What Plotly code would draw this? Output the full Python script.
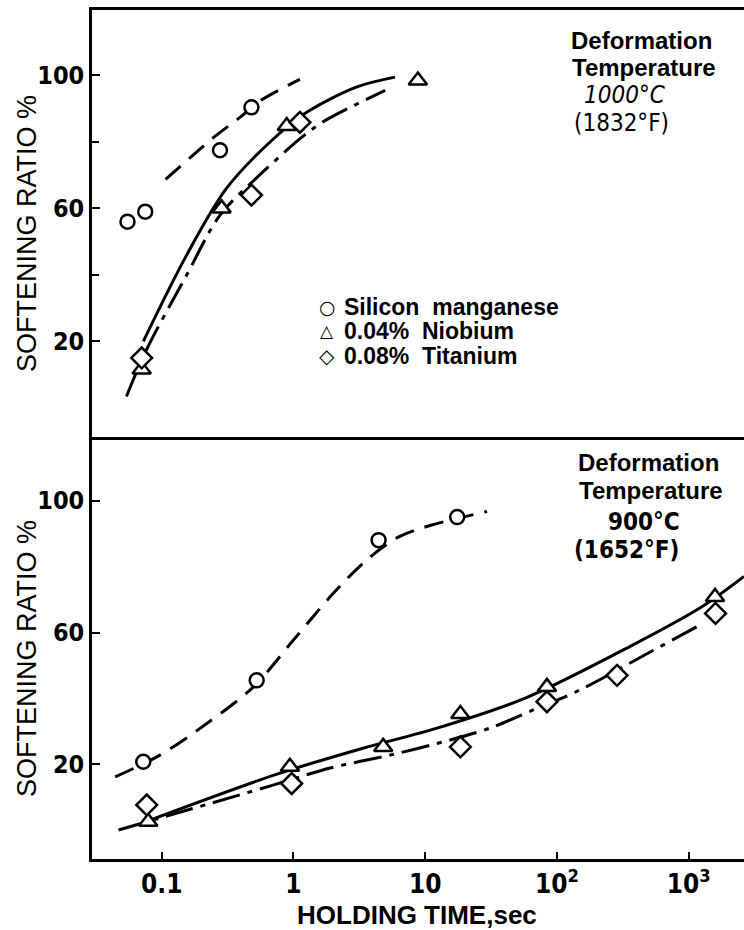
import plotly.graph_objects as go
from plotly.subplots import make_subplots

# ---------------- data ----------------
# Top panel: deformation temperature 1000 C
top_si_x = [0.055, 0.075, 0.277, 0.48]
top_si_y = [56, 59, 77.5, 90.4]
top_nb_x = [0.0705, 0.285, 0.89, 8.8]
top_nb_y = [11.5, 60, 84.8, 98.5]
top_ti_x = [0.0705, 0.48, 1.12]
top_ti_y = [15, 64, 85.9]

top_si_curve_x = [0.107, 0.245, 0.39, 0.56, 1.12]
top_si_curve_y = [68.7, 81.2, 87.3, 92.4, 98.8]
top_nb_curve_x = [0.0725, 0.155, 0.31, 0.70, 1.26, 3.0, 5.9]
top_nb_curve_y = [20, 46, 66, 80.8, 88.9, 96.5, 99.5]
top_ti_curve_x = [0.054, 0.077, 0.155, 0.277, 0.51, 1.19, 1.74, 4.97]
top_ti_curve_y = [3.4, 17.6, 40, 58, 68.7, 81.8, 86.4, 95.5]

# Bottom panel: deformation temperature 900 C
bot_si_x = [0.0725, 0.526, 4.43, 17.5]
bot_si_y = [20.8, 45.5, 88, 95]
bot_nb_x = [0.079, 0.94, 4.8, 18.5, 84, 1585]
bot_nb_y = [2.6, 19.3, 25.3, 35.3, 43.5, 70.8]
bot_ti_x = [0.077, 0.97, 18.5, 84, 286, 1600]
bot_ti_y = [7.7, 14.2, 25.3, 39, 47, 65.8]

bot_si_curve_x = [0.0443, 0.097, 0.22, 0.50, 1.0, 2.0, 3.6, 6.3, 11.2, 29.5]
bot_si_curve_y = [16.2, 22.8, 32.4, 43.6, 57.7, 71.8, 82, 89, 92.6, 96.7]
bot_nb_curve_x = [0.0815, 0.72, 3.37, 12.3, 57.5, 360, 1260, 2630]
bot_nb_curve_y = [3.1, 16.8, 24.9, 31, 40.1, 55.8, 67.8, 77]
bot_ti_curve_x = [0.047, 0.70, 1.9, 5.4, 15.5, 31, 66, 150, 490, 1290]
bot_ti_curve_y = [0.1, 13.7, 18.9, 22.8, 27.4, 31, 36.5, 42.6, 53.7, 62.8]

x_tickvals = [0.1, 1, 10, 100, 1000]
x_ticktext = ["0.1", "1", "10", "10<sup>2</sup>", "10<sup>3</sup>"]
y_tickvals = [20, 60, 100]
y_ticktext = ["20", "60", "100"]
y_minor_top = [40, 80]

# ---------------- layout geometry ----------------
W, H = 744, 930
ML, MR, MT, MB = 92, 0, 10, 71
PW, PH = W - ML - MR, H - MT - MB
split = (859 - 437) / PH


def px(xp, yp):
    return (xp - ML) / PW, (H - MB - yp) / PH


fig = make_subplots(rows=2, cols=1, vertical_spacing=0)

BLACK = "black"
DASH_SI = "20px,11px"
DASH_TI = "28px,8px,5px,8px"


def curve(x, y, dash, row):
    fig.add_trace(go.Scatter(x=x, y=y, mode="lines",
                             line=dict(color=BLACK, width=3, dash=dash,
                                       shape="spline", smoothing=0.9),
                             showlegend=False, hoverinfo="skip"), row=row, col=1)


def markers(x, y, symbol, size, row):
    fig.add_trace(go.Scatter(x=x, y=y, mode="markers",
                             marker=dict(symbol=symbol, size=size, color="white",
                                         line=dict(color=BLACK, width=2.5)),
                             showlegend=False), row=row, col=1)


curve(top_si_curve_x, top_si_curve_y, DASH_SI, 1)
curve(top_nb_curve_x, top_nb_curve_y, "solid", 1)
curve(top_ti_curve_x, top_ti_curve_y, DASH_TI, 1)
markers(top_si_x, top_si_y, "circle", 14, 1)
markers(top_nb_x, top_nb_y, "triangle-up", 16, 1)
markers(top_ti_x, top_ti_y, "diamond", 16, 1)

curve(bot_si_curve_x, bot_si_curve_y, DASH_SI, 2)
curve(bot_nb_curve_x, bot_nb_curve_y, "solid", 2)
curve(bot_ti_curve_x, bot_ti_curve_y, DASH_TI, 2)
markers(bot_si_x, bot_si_y, "circle", 14, 2)
markers(bot_nb_x, bot_nb_y, "triangle-up", 16, 2)
markers(bot_ti_x, bot_ti_y, "diamond", 16, 2)

NARROW = "Liberation Sans Narrow, DejaVu Sans Condensed, Liberation Sans, Arial"
SANS = "Liberation Sans, Arial, DejaVu Sans"
xrange_log = [-1.529, 3.42]

fig.update_xaxes(type="log", range=xrange_log, showgrid=False, zeroline=False,
                 showline=True, linecolor=BLACK, linewidth=2.5)
fig.update_xaxes(row=1, col=1, mirror=True, showticklabels=False, ticks="")
fig.update_xaxes(row=2, col=1, tickvals=x_tickvals, ticktext=x_ticktext,
                 ticks="inside", ticklen=7, tickwidth=2, tickcolor=BLACK,
                 tickfont=dict(family=NARROW, size=26, color=BLACK, weight="bold"))

fig.update_yaxes(showgrid=False, zeroline=False, showline=True, linecolor=BLACK,
                 linewidth=2.5, ticks="inside", ticklen=8, tickwidth=2,
                 tickcolor=BLACK, tickvals=y_tickvals, ticktext=y_ticktext,
                 tickfont=dict(family=NARROW, size=25, color=BLACK, weight="bold"))
fig.update_yaxes(row=1, col=1, range=[-8.8, 119.7], domain=[split, 1],
                 minor=dict(tickvals=y_minor_top, ticks="inside", ticklen=7,
                            tickwidth=2, tickcolor=BLACK, showgrid=False))
fig.update_yaxes(row=2, col=1, range=[-8.7, 119.3], domain=[0, split])

ann = []


def text(t, xp, yp, size, family=SANS, bold=True, italic=False, angle=0, anchor="center"):
    x, y = px(xp, yp)
    ann.append(dict(text=t, x=x, y=y, xref="paper", yref="paper", showarrow=False,
                    xanchor=anchor, yanchor="middle", textangle=angle,
                    font=dict(family=family, size=size, color=BLACK,
                              weight="bold" if bold else "normal",
                              style="italic" if italic else "normal")))


# axis titles
text("SOFTENING RATIO %", 27, 234, 27, bold=False, angle=-90)
text("SOFTENING RATIO %", 27, 659, 27, bold=False, angle=-90)
text("HOLDING TIME,sec", 417, 915, 26)

# condition labels
text("Deformation", 641, 40, 24)
text("Temperature", 644, 67, 24)
text("1000°C", 625, 95, 24, family=NARROW, bold=False, italic=True)
text("(1832°F)", 621, 123, 24, family=NARROW, bold=False)
text("Deformation", 648, 462, 24)
text("Temperature", 651, 490, 24)
text("900°C", 644, 522, 24, family=NARROW)
text("(1652°F)", 626, 550, 24, family=NARROW)

# legend
text("○", 327, 307, 19, family="DejaVu Sans", bold=True)
text("△", 327, 331, 17, family="DejaVu Sans", bold=True)
text("◇", 327, 356, 20, family="DejaVu Sans", bold=True)
text("Silicon  manganese", 342, 307, 23, anchor="left")
text("0.04%  Niobium", 342, 331, 23, anchor="left")
text("0.08%  Titanium", 342, 356, 23, anchor="left")

fig.update_layout(width=W, height=H, margin=dict(l=ML, r=MR, t=MT, b=MB),
                  paper_bgcolor="white", plot_bgcolor="white",
                  showlegend=False, annotations=ann)

fig.write_html("out.html")
